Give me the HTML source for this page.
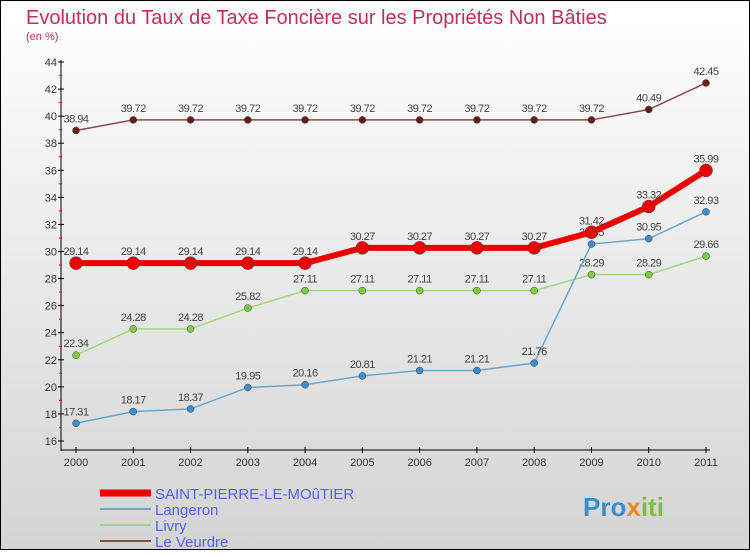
<!DOCTYPE html>
<html><head><meta charset="utf-8"><style>
body{margin:0;width:750px;height:550px;overflow:hidden;font-family:"Liberation Sans",sans-serif}
</style></head><body>
<svg width="750" height="550" xmlns="http://www.w3.org/2000/svg" id="svg">
<defs><linearGradient id="bg" x1="0" y1="0" x2="0" y2="1"><stop offset="0" stop-color="#ffffff"/><stop offset="1" stop-color="#d4d4d4"/></linearGradient></defs>
<rect x="0.5" y="0.5" width="749" height="549" fill="url(#bg)" stroke="#000"/>
<text x="26" y="24" font-size="20" fill="#c0305a">Evolution du Taux de Taxe Foncière sur les Propriétés Non Bâties</text>
<text x="26" y="40" font-size="11" fill="#c0305a">(en %)</text>
<g id="axes"></g>
<g id="series"></g>
<g id="legend"></g>
<text x="583" y="516" font-size="26" font-weight="bold" fill="#3a8fd0">Pro<tspan fill="#f08a1c">x</tspan><tspan fill="#7bbf3a">iti</tspan></text>
</svg>
<script>
const years=[2000,2001,2002,2003,2004,2005,2006,2007,2008,2009,2010,2011];
const yTicks=[16,18,20,22,24,26,28,30,32,34,36,38,40,42,44];
const saint=[29.14,29.14,29.14,29.14,29.14,30.27,30.27,30.27,30.27,31.42,33.32,35.99];
const langeron=[17.31,18.17,18.37,19.95,20.16,20.81,21.21,21.21,21.76,30.55,30.95,32.93];
const livry=[22.34,24.28,24.28,25.82,27.11,27.11,27.11,27.11,27.11,28.29,28.29,29.66];
const veurdre=[38.94,39.72,39.72,39.72,39.72,39.72,39.72,39.72,39.72,39.72,40.49,42.45];
const NS="http://www.w3.org/2000/svg";
const xs=i=>76+i*(630/11);
const ys=v=>441-(v-16)*(379/28);
function mk(tag,attrs,parent,txt){const e=document.createElementNS(NS,tag);for(const k in attrs)e.setAttribute(k,attrs[k]);if(txt!==undefined)e.textContent=txt;parent.appendChild(e);return e;}
const ax=document.getElementById('axes');
let e=mk('line',{x1:61,y1:60,x2:61,y2:451,stroke:'#000'},ax);

e=mk('line',{x1:61,y1:450,x2:710,y2:450,stroke:'#000'},ax);

yTicks.forEach((t,i)=>{const y=ys(t);
 e=mk('line',{x1:58,y1:y,x2:64,y2:y,stroke:'#000'},ax);
 
 e=mk('text',{x:57,y:y+4,'font-size':11,fill:'#333','text-anchor':'end'},ax,t);
 
 if(i<yTicks.length-1){const ym=ys(t+1);e=mk('line',{x1:59,y1:ym,x2:62,y2:ym,stroke:'#e00'},ax);
 }
});
years.forEach((yr,i)=>{const x=xs(i);
 e=mk('line',{x1:x,y1:447,x2:x,y2:453,stroke:'#000'},ax);
 
 e=mk('text',{x:x,y:466,'font-size':11,fill:'#333','text-anchor':'middle'},ax,yr);
 
});
const sg=document.getElementById('series');
function series(name,data,color,w,r,lab){
 const g=mk('g',{},sg);
 const p=mk('polyline',{points:data.map((v,i)=>xs(i)+','+ys(v)).join(' '),fill:'none',stroke:color,'stroke-width':w},g);
 
 data.forEach((v,i)=>{const c=mk('circle',{cx:xs(i),cy:ys(v),r:r,fill:lab,stroke:'#444','stroke-width':0.5},g);
  
  const t=mk('text',{x:xs(i),y:ys(v)-8,'font-size':11,fill:'#444','text-anchor':'middle','letter-spacing':'-0.5'},g,v);
  });
}
series('le-veurdre',veurdre,'#8a4a4a',1.5,3.5,'#6a1a1a');
series('livry',livry,'#a0d880',1.5,3.5,'#7ccc40');
series('langeron',langeron,'#6aa8d4',1.5,3.5,'#3a8fd0');
series('saint-pierre',saint,'#ee0000',6,6.5,'#ee0000');
const lg=document.getElementById('legend');
[['SAINT-PIERRE-LE-MOûTIER','#ee0000',7],['Langeron','#6aa8d4',2],['Livry','#a0d880',2],['Le Veurdre','#8a4a4a',2]].forEach((d,i)=>{
 const y=493+i*16;
 e=mk('line',{x1:100,y1:y,x2:151,y2:y,stroke:d[1],'stroke-width':d[2]},lg);
 
 e=mk('text',{x:155,y:y+6,'font-size':15,fill:'#5560f0'},lg,d[0]);
 
});
</script>
</body></html>
